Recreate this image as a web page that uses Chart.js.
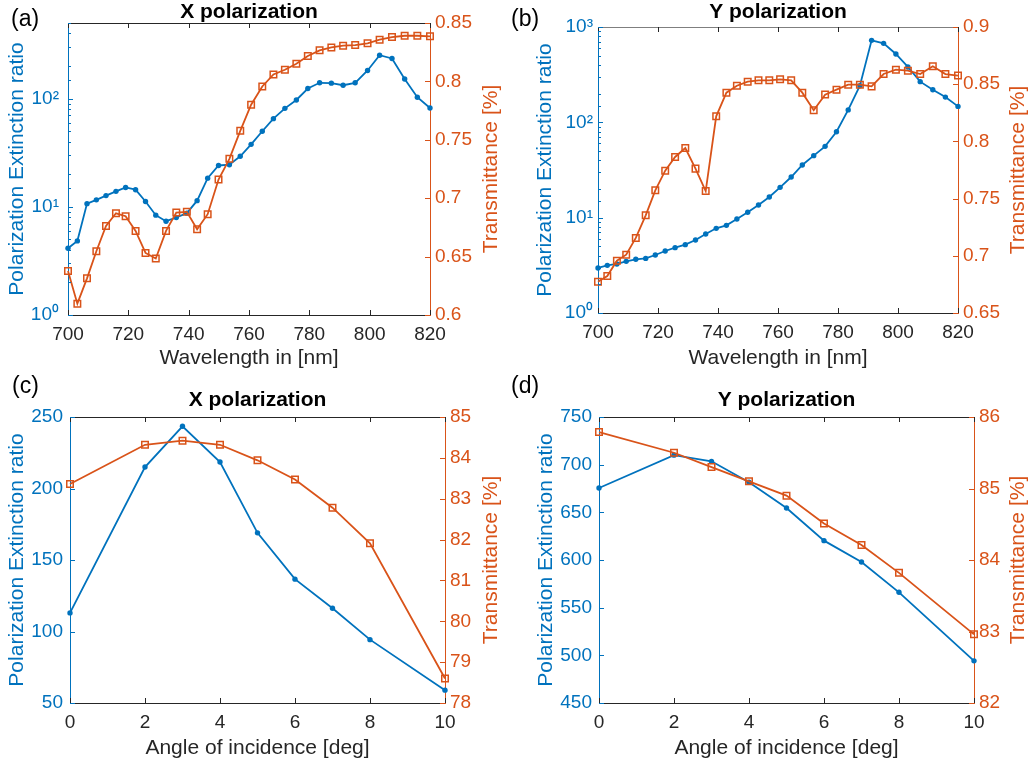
<!DOCTYPE html>
<html><head><meta charset="utf-8">
<script src="https://cdn.jsdelivr.net/npm/chart.js@4.4.1/dist/chart.umd.min.js"></script>
<style>
html,body{margin:0;padding:0;background:#fff;width:1032px;height:765px;overflow:hidden;position:relative;}
canvas{position:absolute;}
.lbl{position:absolute;font-family:'Liberation Sans',Arial,sans-serif;font-size:23px;line-height:1;color:#000;}
</style></head><body>
<canvas id="ca" width="516" height="382" style="left:0;top:0"></canvas>
<canvas id="cb" width="516" height="382" style="left:516px;top:0"></canvas>
<canvas id="cc" width="516" height="383" style="left:0;top:382px"></canvas>
<canvas id="cd" width="516" height="383" style="left:516px;top:382px"></canvas>
<div class="lbl" style="left:11px;top:7px">(a)</div>
<div class="lbl" style="left:511px;top:7px">(b)</div>
<div class="lbl" style="left:12px;top:374px">(c)</div>
<div class="lbl" style="left:511px;top:374px">(d)</div>
<script>
// ---- data ----
const wavelengthNm = [700,703.1,706.3,709.4,712.6,715.9,719.1,722.4,725.7,729.1,732.5,735.9,739.4,742.8,746.3,749.9,753.5,757.1,760.7,764.4,768.1,771.9,775.7,779.5,783.4,787.3,791.2,795.2,799.3,803.3,807.4,811.6,815.8,820];
const xPolExtinction = [4.14,4.84,10.7,11.6,12.7,13.9,15.1,14.4,11.2,8.37,7.36,7.96,8.74,11.4,18.4,24.1,24.5,29.3,37.8,49.9,65.3,81.3,97.2,124,140,139,133,140,182,252,235,152,103,82];
const xPolTransmittance = [0.6377,0.6097,0.6314,0.6546,0.6763,0.6871,0.6846,0.6720,0.6531,0.6483,0.6720,0.6877,0.6883,0.6734,0.6863,0.7160,0.7337,0.7577,0.7800,0.7957,0.8060,0.8100,0.8151,0.8217,0.8266,0.8291,0.8306,0.8311,0.8326,0.8357,0.8380,0.8391,0.8391,0.8386];
const yPolExtinction = [2.97,3.16,3.27,3.48,3.66,3.74,4.06,4.47,4.85,5.21,5.83,6.74,7.73,8.31,9.68,11.4,13.6,16.5,20.8,26.7,35.7,44.7,56.0,79.7,135,242,724,674,521,381,267,220,184,147];
const yPolTransmittance = [0.6774,0.6823,0.6957,0.7010,0.7156,0.7354,0.7572,0.7744,0.7864,0.7942,0.7762,0.7566,0.8219,0.8426,0.8487,0.8522,0.8534,0.8534,0.8543,0.8534,0.8426,0.8272,0.8409,0.8452,0.8496,0.8496,0.8481,0.8589,0.8627,0.8618,0.8589,0.8656,0.8589,0.8575];
const angleDeg = [0,2,3,4,5,6,7,8,10];
const xAngleExtinction = [113,215,243.5,218.5,169,136.6,116.3,94.3,59];
const xAngleTransmittance = [83.36,84.32,84.42,84.32,83.94,83.47,82.78,81.91,78.6];
const yAngleExtinction = [675.5,710,703.5,681.5,654.5,620.3,597.9,566.1,494.2];
const yAngleTransmittance = [85.79,85.50,85.30,85.10,84.90,84.51,84.21,83.82,82.96];
const panelTitles = ['X polarization','Y polarization','X polarization','Y polarization'];
const xTitles = ['Wavelength in [nm]','Angle of incidence [deg]'];
const leftTitle = 'Polarization Extinction ratio';
const rightTitleText = 'Transmittance [%]';

// ---- style ----
const FONT = "'Liberation Sans', Arial, Helvetica, sans-serif";
const BLUE = '#0072BD', ORANGE = '#D95319', DARK = '#262626';
const SUP = {'0':'\u2070','1':'\u00B9','2':'\u00B2','3':'\u00B3'};
const isPow10 = v => { const l = Math.log10(v); return Math.abs(l - Math.round(l)) < 1e-9; };

const innerTicks = {
  id: 'innerTicks',
  afterDatasetsDraw(chart, args, o) {
    const {ctx, chartArea: a} = chart;
    ctx.save();
    ctx.lineWidth = 1;
    const line = (x1, y1, x2, y2, c) => { ctx.strokeStyle = c; ctx.beginPath(); ctx.moveTo(x1, y1); ctx.lineTo(x2, y2); ctx.stroke(); };
    line(a.left, Math.round(a.top) + 0.5, a.right, Math.round(a.top) + 0.5, o.topColor || DARK);
    const xs = chart.scales.x;
    xs.ticks.forEach(t => {
      const p = Math.round(xs.getPixelForValue(t.value)) + 0.5;
      line(p, a.bottom, p, a.bottom - 5, DARK);
      line(p, a.top, p, a.top + 5, DARK);
    });
    const yl = chart.scales.yL;
    yl.ticks.forEach(t => {
      const p = Math.round(yl.getPixelForValue(t.value)) + 0.5;
      const len = (yl.type === 'logarithmic' && !isPow10(t.value)) ? 3 : 5;
      line(a.left, p, a.left + len, p, BLUE);
    });
    const yr = chart.scales.yR;
    yr.ticks.forEach(t => {
      const p = Math.round(yr.getPixelForValue(t.value)) + 0.5;
      line(a.right, p, a.right - 5, p, ORANGE);
    });
    ctx.restore();
  }
};

const rightTitle = {
  id: 'rightTitle',
  afterDraw(chart, args, o) {
    const {ctx, chartArea: a} = chart;
    ctx.save();
    ctx.translate(o.x, (a.top + a.bottom) / 2);
    ctx.rotate(-Math.PI / 2);
    ctx.font = '21px ' + FONT;
    ctx.fillStyle = ORANGE;
    ctx.textAlign = 'center';
    ctx.textBaseline = 'middle';
    ctx.fillText(o.text, 0, 0);
    ctx.restore();
  }
};

function makePanel(id, p) {
  const toPts = ys => p.x.map((v, i) => ({x: v, y: ys[i]}));
  const leftScale = {
    type: p.logLeft ? 'logarithmic' : 'linear',
    position: 'left',
    min: p.lMin, max: p.lMax,
    ticks: {
      color: BLUE, font: {family: FONT, size: 19}, padding: p.lTickPad, autoSkip: false,
      callback: p.logLeft
        ? (v => isPow10(v) ? '10' + String(Math.round(Math.log10(v))).split('').map(c => SUP[c]).join('') : '')
        : (v => String(v)),
      stepSize: p.lStep
    },
    grid: {display: false, drawTicks: false},
    border: {display: true, color: BLUE, width: 1},
    title: {display: true, text: leftTitle, color: BLUE, font: {family: FONT, size: 21, lineHeight: 1}, padding: {top: p.lTitlePad, bottom: 0}},
    afterFit: s => { s.width = p.lW; }
  };
  new Chart(document.getElementById(id), {
    type: 'line',
    data: {datasets: [
      {label: rightTitleText, data: toPts(p.right), yAxisID: 'yR', borderColor: ORANGE, backgroundColor: 'rgba(255,255,255,0)',
       pointStyle: 'rect', pointRadius: 4.6, pointBorderWidth: 1.5, pointBorderColor: ORANGE, pointBackgroundColor: 'rgba(255,255,255,0)',
       borderWidth: 1.8, order: 0, clip: false, tension: 0},
      {label: leftTitle, data: toPts(p.left), yAxisID: 'yL', borderColor: BLUE, backgroundColor: BLUE,
       pointStyle: 'circle', pointRadius: 2.7, pointBorderWidth: 0, pointBackgroundColor: BLUE,
       borderWidth: 1.8, order: 1, clip: false, tension: 0}
    ]},
    options: {
      responsive: false, animation: false, devicePixelRatio: 1,
      layout: {padding: 0},
      plugins: {
        legend: {display: false}, tooltip: {enabled: false},
        title: {display: true, text: p.title, fullSize: false, color: '#000',
                font: {family: FONT, size: 21, weight: 'bold', lineHeight: 1},
                padding: {top: p.tTop, bottom: p.tBottom}},
        rightTitle: {text: rightTitleText, x: p.rTitleX},
        innerTicks: {topColor: p.topColor}
      },
      scales: {
        x: {
          type: 'linear', position: 'bottom', min: p.xMin, max: p.xMax,
          ticks: {stepSize: p.xStep, color: DARK, font: {family: FONT, size: 19}, padding: 8, maxRotation: 0, autoSkip: false, callback: v => String(v)},
          grid: {display: false, drawTicks: false},
          border: {display: true, color: DARK, width: 1},
          title: {display: true, text: p.xTitle, color: DARK, font: {family: FONT, size: 21, lineHeight: 1}, padding: {top: 0, bottom: p.xTitlePad}},
          afterFit: s => { s.height = p.xH; }
        },
        yL: leftScale,
        yR: {
          type: 'linear', position: 'right', min: p.rMin, max: p.rMax,
          ticks: {stepSize: p.rStep, color: ORANGE, font: {family: FONT, size: 19}, padding: 5, autoSkip: false,
                  callback: v => String(+v.toFixed(2))},
          grid: {display: false, drawTicks: false},
          border: {display: true, color: ORANGE, width: 1},
          afterFit: s => { s.width = p.rW; }
        }
      }
    },
    plugins: [innerTicks, rightTitle]
  });
}

makePanel('ca', {x: wavelengthNm, left: xPolExtinction, right: xPolTransmittance, title: panelTitles[0], xTitle: xTitles[0],
  logLeft: true, lMin: 1, lMax: 500, rMin: 0.6, rMax: 0.85, rStep: 0.05, xMin: 700, xMax: 820, xStep: 20,
  lW: 68, rW: 86, xH: 67, tTop: 2, tBottom: 0, lTitlePad: 6.5, lTickPad: 9, xTitlePad: 13, rTitleX: 491, topColor: DARK});
makePanel('cb', {x: wavelengthNm, left: yPolExtinction, right: yPolTransmittance, title: panelTitles[1], xTitle: xTitles[0],
  logLeft: true, lMin: 1, lMax: 1000, rMin: 0.65, rMax: 0.9, rStep: 0.05, xMin: 700, xMax: 820, xStep: 20,
  lW: 82, rW: 74, xH: 69, tTop: 2, tBottom: 4, lTitlePad: 18.5, lTickPad: 5, xTitlePad: 13, rTitleX: 502, topColor: '#7f7f7f'});
makePanel('cc', {x: angleDeg, left: xAngleExtinction, right: xAngleTransmittance, title: panelTitles[2], xTitle: xTitles[1],
  logLeft: false, lMin: 50, lMax: 250, lStep: 50, rMin: 78, rMax: 85, rStep: 1, xMin: 0, xMax: 10, xStep: 2,
  lW: 70, rW: 71, xH: 62, tTop: 8, tBottom: 6, lTitlePad: 6.5, lTickPad: 7, xTitlePad: 6.5, rTitleX: 491, topColor: DARK});
makePanel('cd', {x: angleDeg, left: yAngleExtinction, right: yAngleTransmittance, title: panelTitles[3], xTitle: xTitles[1],
  logLeft: false, lMin: 450, lMax: 750, lStep: 50, rMin: 82, rMax: 86, rStep: 1, xMin: 0, xMax: 10, xStep: 2,
  lW: 83, rW: 58, xH: 62, tTop: 8, tBottom: 6, lTitlePad: 19.5, lTickPad: 7, xTitlePad: 6.5, rTitleX: 502, topColor: DARK});
</script>
</body></html>
